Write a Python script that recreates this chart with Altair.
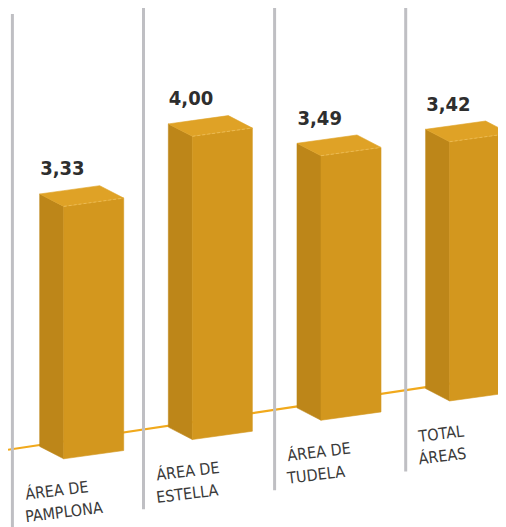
import altair as alt
import pandas as pd

# ---------------- data ----------------
categories = ["ÁREA DE\nPAMPLONA", "ÁREA DE\nESTELLA", "ÁREA DE\nTUDELA", "TOTAL\nÁREAS"]
values = [3.33, 4.00, 3.49, 3.42]

# ---------------- layout (projection constants, page pixels) ----------------
W, H = 490, 519
X0, Y0 = 8, 8                      # page margin -> view origin
BASE0 = (63.7, 458.8)             # front-bottom-left corner of first bar
STEP = (128.65, -19.28)           # shift between consecutive bars
PX_PER_UNIT = 75.8                # vertical pixels per value unit
FRONT = (60.0, -8.3)              # front face width vector
DEPTH = (-24.0, -12.4)            # depth vector (front -> back)
SEP0, SEP_STEP = 12.4, 131.1      # separator lines
SEP_TOP0, SEP_TOP_STEP = 14.0, -7.0
SEP_BOT0, SEP_BOT_STEP = 528.1, -18.9

COL_SIDE, COL_FRONT, COL_TOP = "#bd8619", "#d3971e", "#dfa226"
COL_LINE = "#f1a91c"
COL_SEP = "#bfbfc3"
FONT = "DejaVu Sans Condensed, Liberation Sans Narrow, DejaVu Sans"


def interp(poly, x):
    for (xa, ya), (xb, yb) in zip(poly, poly[1:]):
        if xa - 1e-9 <= x <= xb + 1e-9:
            if abs(xb - xa) < 1e-9:
                return ya
            return ya + (yb - ya) * (x - xa) / (xb - xa)
    return poly[-1][1]


def add(p, v):
    return (p[0] + v[0], p[1] + v[1])


faces, vlabels, clabels, seps, edges = [], [], [], [], []
for i, (cat, v) in enumerate(zip(categories, values)):
    bx = BASE0[0] + i * STEP[0]
    by = BASE0[1] + i * STEP[1]
    ty = by - v * PX_PER_UNIT
    FLt = (bx, ty)
    FRt = add(FLt, FRONT)
    BLt = add(FLt, DEPTH)
    BRt = add(BLt, FRONT)
    FLb = (bx, by)
    FRb = add(FLb, FRONT)
    BLb = add(FLb, DEPTH)

    for p_t, p_b in [(BLt, BLb), (FLt, FLb)]:
        faces.append(dict(fid=f"{i}-side", kind="side", px=p_t[0], top=p_t[1], bot=p_b[1]))
    for p_t, p_b in [(FLt, FLb), (FRt, FRb)]:
        faces.append(dict(fid=f"{i}-front", kind="front", px=p_t[0], top=p_t[1], bot=p_b[1]))
    upper = [BLt, BRt, FRt]
    lower = [BLt, FLt, FRt]
    for xx in sorted([BLt[0], FLt[0], BRt[0], FRt[0]]):
        faces.append(dict(fid=f"{i}-top", kind="top", px=xx,
                          top=interp(upper, xx), bot=interp(lower, xx)))
    edges.append(dict(x=FLt[0], y=FLt[1], x2=FRt[0], y2=FRt[1]))

    vlabels.append(dict(x=BLt[0] + 0.5, y=BLt[1] - 18.5,
                        t=f"{v:.2f}".replace(".", ",")))

    sx = SEP0 + i * SEP_STEP
    seps.append(dict(x=sx, y=SEP_TOP0 + i * SEP_TOP_STEP, y2=SEP_BOT0 + i * SEP_BOT_STEP))
    for j, line in enumerate(cat.split("\n")):
        clabels.append(dict(x=sx + 13.5, y=by + 41 + j * 22.5, t=line))

bl_x, bl_y = BASE0[0] + DEPTH[0], BASE0[1] + DEPTH[1] - 1.4
slope = STEP[1] / STEP[0]
baseline = pd.DataFrame([dict(x=xx, y=bl_y + (xx - bl_x) * slope) for xx in (X0, X0 + W)])

xs = alt.Scale(domain=[X0, X0 + W], range=[0, W])
ys = alt.Scale(domain=[Y0, Y0 + H], range=[0, H])

line = alt.Chart(baseline).mark_line(color=COL_LINE, strokeWidth=2.2, clip=True).encode(
    x=alt.X("x:Q", scale=xs, axis=None), y=alt.Y("y:Q", scale=ys, axis=None))

sep = alt.Chart(pd.DataFrame(seps)).mark_rule(color=COL_SEP, strokeWidth=3, clip=True).encode(
    x=alt.X("x:Q", scale=xs, axis=None), y=alt.Y("y:Q", scale=ys, axis=None), y2="y2:Q")

cscale = alt.Scale(domain=["side", "front", "top"], range=[COL_SIDE, COL_FRONT, COL_TOP])
bars = alt.Chart(pd.DataFrame(faces)).mark_area(orient="vertical", strokeWidth=0.6, clip=True).encode(
    x=alt.X("px:Q", scale=xs, axis=None),
    y=alt.Y("top:Q", scale=ys, axis=None, stack=None),
    y2="bot:Q",
    detail="fid:N",
    color=alt.Color("kind:N", scale=cscale, legend=None),
    stroke=alt.Stroke("kind:N", scale=cscale, legend=None),
)

edge = alt.Chart(pd.DataFrame(edges)).mark_rule(color="#f3c766", strokeWidth=0.8, strokeDash=[3, 2], opacity=0.8, clip=True).encode(
    x=alt.X("x:Q", scale=xs, axis=None), y=alt.Y("y:Q", scale=ys, axis=None), x2="x2:Q", y2="y2:Q")

vtext = alt.Chart(pd.DataFrame(vlabels)).mark_text(
    font=FONT, fontSize=20, fontWeight="bold", color="#2e2e2e", align="left", baseline="alphabetic"
).encode(x=alt.X("x:Q", scale=xs, axis=None), y=alt.Y("y:Q", scale=ys, axis=None), text="t:N")

ctext = alt.Chart(pd.DataFrame(clabels)).mark_text(
    font=FONT, fontSize=16, color="#3a3a3a", align="left", baseline="alphabetic", angle=353
).encode(x=alt.X("x:Q", scale=xs, axis=None), y=alt.Y("y:Q", scale=ys, axis=None), text="t:N")

chart = alt.layer(line, sep, bars, edge, vtext, ctext).properties(
    width=W, height=H, padding=0, autosize=alt.AutoSizeParams(type="none")
).configure_view(stroke=None)

chart.save("out.html", embed_options={"renderer": "svg", "actions": False})
